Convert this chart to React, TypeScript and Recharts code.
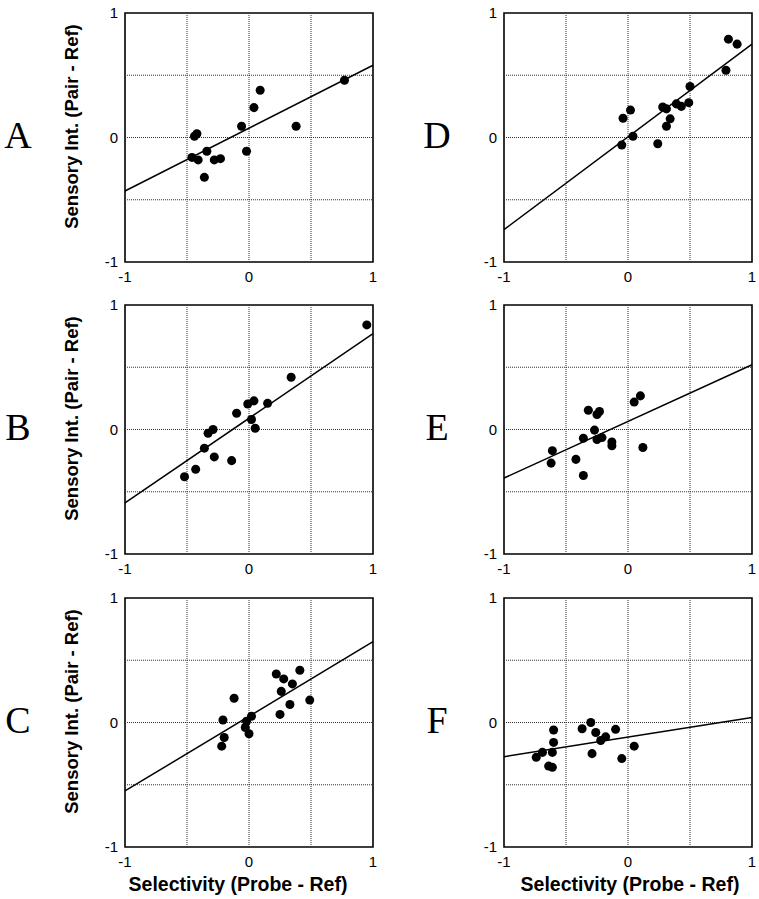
import { ScatterChart, Scatter, XAxis, YAxis, ZAxis, ReferenceLine, ReferenceArea } from "recharts"

type Pt = { x: number; y: number }

// values: x = selectivity, y = sensory interaction
const panelA: Pt[] = [
  { x: 0.77, y: 0.46 }, { x: 0.09, y: 0.38 }, { x: 0.04, y: 0.24 }, { x: 0.38, y: 0.09 },
  { x: -0.06, y: 0.09 }, { x: -0.02, y: -0.11 }, { x: -0.42, y: 0.03 }, { x: -0.44, y: 0.01 },
  { x: -0.34, y: -0.11 }, { x: -0.46, y: -0.16 }, { x: -0.41, y: -0.18 }, { x: -0.28, y: -0.18 },
  { x: -0.23, y: -0.17 }, { x: -0.36, y: -0.32 },
]
const panelB: Pt[] = [
  { x: 0.95, y: 0.84 }, { x: 0.34, y: 0.42 }, { x: 0.15, y: 0.21 }, { x: 0.04, y: 0.23 },
  { x: -0.01, y: 0.205 }, { x: 0.02, y: 0.08 }, { x: 0.05, y: 0.01 }, { x: -0.1, y: 0.13 },
  { x: -0.29, y: 0.0 }, { x: -0.33, y: -0.03 }, { x: -0.36, y: -0.15 }, { x: -0.28, y: -0.22 },
  { x: -0.14, y: -0.25 }, { x: -0.43, y: -0.32 }, { x: -0.52, y: -0.38 },
]
const panelC: Pt[] = [
  { x: 0.41, y: 0.42 }, { x: 0.22, y: 0.39 }, { x: 0.28, y: 0.35 }, { x: 0.35, y: 0.31 },
  { x: 0.26, y: 0.25 }, { x: 0.49, y: 0.18 }, { x: 0.33, y: 0.145 }, { x: 0.25, y: 0.065 },
  { x: -0.12, y: 0.195 }, { x: 0.02, y: 0.05 }, { x: -0.02, y: 0.01 }, { x: -0.21, y: 0.02 },
  { x: -0.03, y: -0.04 }, { x: 0.0, y: -0.09 }, { x: -0.2, y: -0.12 }, { x: -0.22, y: -0.19 },
]
const panelD: Pt[] = [
  { x: 0.81, y: 0.79 }, { x: 0.88, y: 0.75 }, { x: 0.79, y: 0.54 }, { x: 0.5, y: 0.41 },
  { x: 0.49, y: 0.28 }, { x: 0.43, y: 0.25 }, { x: 0.39, y: 0.27 }, { x: 0.28, y: 0.245 },
  { x: 0.31, y: 0.23 }, { x: 0.34, y: 0.15 }, { x: 0.31, y: 0.09 }, { x: 0.02, y: 0.22 },
  { x: -0.04, y: 0.155 }, { x: 0.04, y: 0.01 }, { x: -0.05, y: -0.06 }, { x: 0.24, y: -0.05 },
]
const panelE: Pt[] = [
  { x: 0.1, y: 0.27 }, { x: 0.05, y: 0.22 }, { x: -0.32, y: 0.155 }, { x: -0.25, y: 0.12 },
  { x: -0.23, y: 0.145 }, { x: -0.27, y: -0.005 }, { x: -0.36, y: -0.07 }, { x: -0.25, y: -0.08 },
  { x: -0.21, y: -0.065 }, { x: -0.13, y: -0.1 }, { x: -0.13, y: -0.13 }, { x: 0.12, y: -0.145 },
  { x: -0.61, y: -0.17 }, { x: -0.62, y: -0.27 }, { x: -0.42, y: -0.24 }, { x: -0.36, y: -0.37 },
]
const panelF: Pt[] = [
  { x: -0.3, y: 0.0 }, { x: -0.37, y: -0.05 }, { x: -0.26, y: -0.08 }, { x: -0.18, y: -0.115 },
  { x: -0.22, y: -0.145 }, { x: -0.1, y: -0.055 }, { x: 0.05, y: -0.19 }, { x: -0.05, y: -0.29 },
  { x: -0.29, y: -0.25 }, { x: -0.6, y: -0.06 }, { x: -0.6, y: -0.16 }, { x: -0.61, y: -0.24 },
  { x: -0.69, y: -0.24 }, { x: -0.74, y: -0.28 }, { x: -0.64, y: -0.35 }, { x: -0.61, y: -0.36 },
]

// regression line: y at x = -1 and at x = 1
const fitA = [-0.43, 0.58]
const fitB = [-0.59, 0.77]
const fitC = [-0.55, 0.65]
const fitD = [-0.74, 0.75]
const fitE = [-0.39, 0.52]
const fitF = [-0.275, 0.04]

const ticks = [-1, 0, 1]
const gridValues = [-0.5, 0, 0.5]

const sans = "'Liberation Sans', Arial, Helvetica, sans-serif"
const PW = 248
const PH = 249

function YTitle({ viewBox }: any) {
  const cx = viewBox.x + 18
  const cy = viewBox.y + viewBox.height / 2 - 11
  return (
    <text x={cx} y={cy} transform={`rotate(-90, ${cx}, ${cy})`} textAnchor="middle"
      fontFamily={sans} fontWeight="bold" fontSize={18.5} fill="#000">
      Sensory Int. (Pair - Ref)
    </text>
  )
}

function XTitle({ viewBox, shift }: any) {
  return (
    <text x={viewBox.x + viewBox.width / 2 + shift} y={viewBox.y + 44} textAnchor="middle"
      fontFamily={sans} fontWeight="bold" fontSize={19.5} fill="#000">
      Selectivity (Probe - Ref)
    </text>
  )
}

function Panel({ data, fit, left, top, yTitle, xTitle, shift = 0 }: any) {
  const yw = yTitle ? 65 : 30
  const xh = xTitle ? 50 : 30
  return (
    <div style={{ position: "absolute", left: left - yw, top: top - 10 }}>
      <ScatterChart width={yw + PW + 10} height={10 + PH + xh} margin={{ top: 10, right: 10, bottom: 0, left: 0 }}>
        <XAxis type="number" dataKey="x" domain={[-1, 1]} ticks={ticks} allowDataOverflow
          axisLine={false} tickLine={false} tickSize={6} tickMargin={3} height={xh}
          tick={{ fill: "#000", fontSize: 15, fontFamily: sans }}
          label={xTitle ? (p: any) => <XTitle {...p} shift={shift} /> : undefined} />
        <YAxis type="number" dataKey="y" domain={[-1, 1]} ticks={ticks} allowDataOverflow
          axisLine={false} tickLine={false} tickSize={5} tickMargin={2} width={yw}
          tick={{ fill: "#000", fontSize: 15, fontFamily: sans }}
          label={yTitle ? (p: any) => <YTitle {...p} /> : undefined} />
        <ZAxis range={[72, 72]} />
        {gridValues.map((v) => (
          <ReferenceLine key={"v" + v} x={v} stroke="#333" strokeDasharray="1 1" />
        ))}
        {gridValues.map((v) => (
          <ReferenceLine key={"h" + v} y={v} stroke="#333" strokeDasharray="1 1" />
        ))}
        <ReferenceArea x1={-1} x2={1} y1={-1} y2={1} fill="none" fillOpacity={0} stroke="#000" strokeWidth={1.6} />
        <ReferenceLine segment={[{ x: -1, y: fit[0] }, { x: 1, y: fit[1] }]} stroke="#000" strokeWidth={1.5} />
        <Scatter data={data} fill="#000" isAnimationActive={false} />
      </ScatterChart>
    </div>
  )
}

const letters = ["A", "B", "C", "D", "E", "F"]
const rowTops = [13, 304.5, 597.5]
const colLefts = [125, 503.5]

export default function App() {
  return (
    <div style={{ position: "absolute", left: 0, top: 0, width: 759, height: 899, background: "#fff" }}>
      <Panel data={panelA} fit={fitA} left={colLefts[0]} top={rowTops[0]} yTitle />
      <Panel data={panelB} fit={fitB} left={colLefts[0]} top={rowTops[1]} yTitle />
      <Panel data={panelC} fit={fitC} left={colLefts[0]} top={rowTops[2]} yTitle xTitle shift={-11} />
      <Panel data={panelD} fit={fitD} left={colLefts[1]} top={rowTops[0]} />
      <Panel data={panelE} fit={fitE} left={colLefts[1]} top={rowTops[1]} />
      <Panel data={panelF} fit={fitF} left={colLefts[1]} top={rowTops[2]} xTitle shift={2} />
      <svg width={759} height={899} style={{ position: "absolute", left: 0, top: 0, pointerEvents: "none" }}>
        {letters.map((l, i) => (
          <text key={l} x={i < 3 ? 18 : 437} y={rowTops[i % 3] + 135} textAnchor="middle"
            fontFamily="'Liberation Serif', 'Times New Roman', serif" fontSize={38} fill="#000">
            {l}
          </text>
        ))}
      </svg>
    </div>
  )
}
